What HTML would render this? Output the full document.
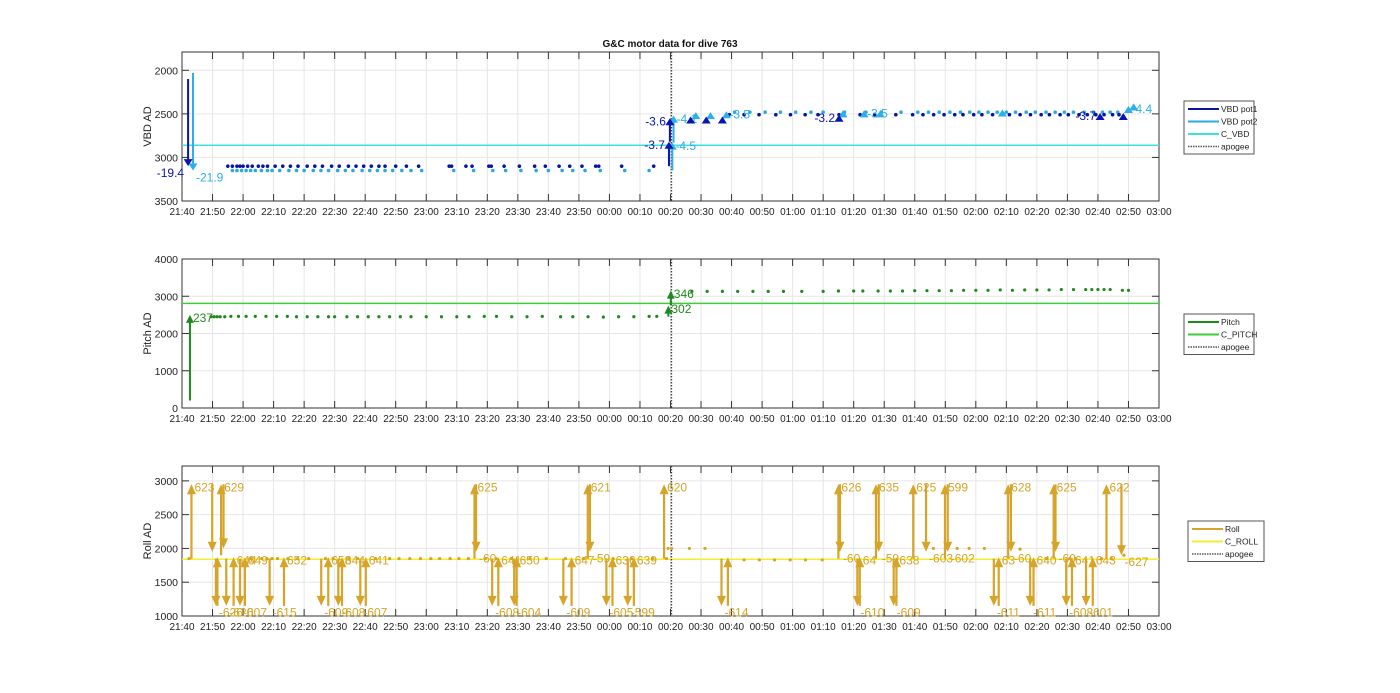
<!DOCTYPE html>
<html><head><meta charset="utf-8"><style>
body{margin:0;background:#fff;}
svg{display:block;font-family:"Liberation Sans",sans-serif;}
</style></head><body>
<svg id="chart" width="1400" height="693"></svg>
<script>
// ---------- data ----------
const xTickLabels=["21:40","21:50","22:00","22:10","22:20","22:30","22:40","22:50","23:00","23:10","23:20","23:30","23:40","23:50","00:00","00:10","00:20","00:30","00:40","00:50","01:00","01:10","01:20","01:30","01:40","01:50","02:00","02:10","02:20","02:30","02:40","02:50","03:00"];
const apogeeT=160.3;
// VBD
const vbdTicks=[2000,2500,3000,3500];
const cVBD=2860;
const pot1T=[15,16.5,18,19,20,21.5,23,25,26.5,28,30.5,33,35.5,38,41,43.5,46,49,51.5,54.5,57,59.5,62,64.5,66.5,70,73.5,77.5,87.5,88.3,93,95,100.5,101.3,105.5,110.5,115.5,119,123.5,127,131,135.5,136.5,144,154.5,179.3,184.1,189,194.5,199.3,204.1,208.3,215.2,222.1,226.9,233.8,239.3,242.7,246.2,249.6,253.1,255.8,259.3,262,265.5,268.3,271,274.5,277.9,281.4,284.1,287.6,290.3,293.8,296.5,299.3,302,304.8,306.9];
const pot1V=[3100,3100,3100,3100,3100,3100,3100,3100,3100,3100,3100,3100,3100,3100,3100,3100,3100,3100,3100,3100,3100,3100,3100,3100,3100,3100,3100,3100,3100,3100,3100,3100,3100,3100,3100,3100,3100,3100,3100,3100,3100,3100,3100,3100,3100,2510,2510,2510,2510,2510,2510,2510,2510,2510,2510,2510,2510,2510,2510,2510,2510,2510,2510,2510,2510,2510,2510,2510,2510,2510,2510,2510,2510,2510,2510,2510,2510,2510,2510];
const pot2T=[16.5,18,19.5,21,22.5,24,26,28,29.5,32,35,37.5,40,43,45.5,48,51,53.5,56,59,61.5,64,66.5,69,72,75,78.5,89,95.5,101.8,106,111,116,120,124.5,128,132,137,145,153,181,186,191,196,201,206,210,217,224,229,235.5,241,244.5,248,251.5,255,258,261,264,267,270,273,276.5,279.5,283,286,289,292,295.5,298.5,301.5,304,306.5];
const pot2V=[3150,3150,3150,3150,3150,3150,3150,3150,3150,3150,3150,3150,3150,3150,3150,3150,3150,3150,3150,3150,3150,3150,3150,3150,3150,3150,3150,3150,3150,3150,3150,3150,3150,3150,3150,3150,3150,3150,3150,3150,2480,2480,2480,2480,2480,2480,2480,2480,2480,2480,2480,2480,2480,2480,2480,2480,2480,2480,2480,2480,2480,2480,2480,2480,2480,2480,2480,2480,2480,2480,2480,2480,2480];
const pot1MoveT=[2,159.5,159.8,166.6,171.7,177,215.2,300.7,308.3];
const pot1MoveFrom=[2100,3100,2820,2560,2560,2560,2530,2520,2520];
const pot1MoveTo=[3100,2820,2550,2530,2530,2530,2510,2490,2490];
const pot1MoveLabel=["-19.4","-3.7","-3.6","","","","-3.2","-3.7",""];
const pot2MoveT=[3.6,160.6,161,168.3,173.1,178.3,216.5,223.4,228.7,268.7,310,311.7];
const pot2MoveFrom=[2030,3150,2830,2510,2510,2500,2490,2490,2490,2480,2440,2420];
const pot2MoveTo=[3150,2830,2520,2480,2480,2470,2460,2460,2460,2450,2410,2380];
const pot2MoveLabel=["-21.9","-4.5","-4.1","","","-3.5","","-3.5","","","-4.4",""];
// Pitch
const pitchTicks=[0,1000,2000,3000,4000];
const cPitch=2810;
const pitchT=[9.5,10.5,11.5,12.5,14,16,18.5,21,24,27.5,31,34.5,37.5,41,44.5,48,50,54,57.5,61,64.5,68,71.5,75,80,85,90,94,99,103,108,113,118,124,128,133,138,143,148,153,155.5,167,172,177,182,187,192,197,203,210,215,220,223,228,232,236,240,244,248,252,256,260,264,268,272,276,280,284,288,292,296,298,300,302,304,308,310];
const pitchV=[2450,2450,2450,2450,2450,2460,2460,2460,2460,2460,2460,2460,2450,2450,2450,2450,2450,2450,2450,2450,2450,2450,2450,2450,2450,2450,2450,2450,2460,2460,2450,2450,2460,2450,2450,2450,2440,2450,2450,2460,2460,3130,3130,3130,3130,3130,3130,3130,3130,3130,3140,3140,3140,3140,3140,3140,3150,3150,3150,3150,3160,3160,3160,3170,3160,3170,3170,3170,3180,3180,3180,3180,3180,3180,3180,3160,3160];
const pitchMoveT=[2.6,159.3,160.1];
const pitchMoveFrom=[200,2450,2750];
const pitchMoveTo=[2500,2750,3150];
const pitchMoveLabel=["237","302","346"];
// Roll
const rollTicks=[1000,1500,2000,2500,3000];
const cRoll=1840;
const rollT=[2.3,22.6,26.1,27.8,29.5,31.3,34.7,37.9,41.5,47,49.5,54.7,57.5,63.4,68,71.1,74.6,78.1,81.5,84.4,87.8,90.7,93.8,99.3,102.9,107.8,114,119.3,125.6,131.5,141.2,147.2,154.2,158.7,159.2,160.4,166.2,171.3,184.1,189.1,194.1,199.2,204.2,209.7,246.1,250,253.9,257.8,262.8,274.5,283,290.8,292.7,301.2,304.4,308.5];
const rollV=[1850,1850,1850,1850,1850,1850,1850,1850,1850,1850,1850,1850,1850,1850,1850,1850,1850,1850,1850,1850,1850,1850,1850,1850,1850,1850,1850,1850,1850,1850,1850,1850,1850,1850,2000,2000,2000,2000,1830,1830,1830,1830,1830,1830,2000,2000,2000,2000,2000,1990,1850,1850,1850,1850,1850,1900];
const rollMoveT=[3.1,9.9,11.1,11.6,12.8,13.6,14.5,16.9,19,20.6,28.7,33.4,45.6,47.9,51.2,52.4,58.4,60.2,95.8,96.3,101.6,103.6,108.8,109.6,124.9,127.6,132.9,133.6,139,141,146,148,157.9,176.7,178.8,215,215.5,221.2,222,227.3,228.2,233.1,234,239.5,243.7,249.9,250.8,265.9,267.5,270.6,271.5,277.8,278.9,285.5,286.1,289.6,291.5,296.1,298.3,302.8,307.7];
const rollMoveFrom=[1850,2950,1850,1150,1900,2950,1850,1150,1850,1150,1850,1150,1850,1150,1850,1150,1850,1150,1850,2950,1850,1150,1850,1150,1850,1150,1850,2950,1850,1150,1850,1150,1850,1850,1150,1850,2950,1850,1150,1850,2950,1850,1150,1850,2950,1850,2950,1850,1150,1850,2950,1850,1150,1850,2950,1850,1150,1850,1150,1850,2950];
const rollMoveTo=[2950,1950,1150,1870,2950,2000,1150,1870,1150,1870,1150,1870,1150,1870,1150,1870,1150,1870,2950,1950,1150,1870,1150,1870,1150,1870,2950,1950,1150,1870,1150,1870,2950,1150,1870,2950,1950,1150,1870,2950,1950,1150,1870,2950,1950,2950,1950,1150,1870,2950,1950,1150,1870,2950,1950,1150,1870,1150,1870,2950,1900];
const rollMoveLabel=["623","","-626","","629","","-620","644","-607","649","-615","652","-609","658","-608","644","-607","641","625","-60","-608","641","-604","650","-609","647","621","-59","-605","636","-599","639","620","-614","","626","-60","-610","64","635","-59","-609","638","625","-603","599","-602","-611","63","628","-60","-611","640","625","-60","-608","641","-601","643","622","-627"];

// ---------- drawing ----------
const svg=document.getElementById('chart');
const NS='http://www.w3.org/2000/svg';
function el(tag,attrs,parent){const e=document.createElementNS(NS,tag);for(const k in attrs)e.setAttribute(k,attrs[k]);(parent||svg).appendChild(e);return e;}
const X0=182,X1=1159,TMAX=320;
function xS(t){return X0+t*(X1-X0)/TMAX;}
function makeY(top,bot,lo,hi,rev){return v=>rev?top+(v-lo)/(hi-lo)*(bot-top):bot-(v-lo)/(hi-lo)*(bot-top);}

const panels=[
 {top:52,bot:201,lo:1790,hi:3500,rev:true,ticks:vbdTicks,title:"VBD AD",name:"vbd"},
 {top:259,bot:408,lo:0,hi:4000,rev:false,ticks:pitchTicks,title:"Pitch AD",name:"pitch"},
 {top:466,bot:616,lo:1000,hi:3220,rev:false,ticks:rollTicks,title:"Roll AD",name:"roll"}];
panels.forEach(p=>{p.y=makeY(p.top,p.bot,p.lo,p.hi,p.rev);});

function drawAxes(p){
 const g=el('g',{});
 
 
 el('rect',{x:X0,y:p.top,width:X1-X0,height:p.bot-p.top,fill:'#fff'},g);
 xTickLabels.forEach((lab,i)=>{
  const x=xS(i*10);
  el('line',{x1:x,x2:x,y1:p.top,y2:p.bot,stroke:'#e6e6e6','stroke-width':1},g);
  el('line',{x1:x,x2:x,y1:p.bot,y2:p.bot-7,stroke:'#333','stroke-width':1},g);
  el('line',{x1:x,x2:x,y1:p.top,y2:p.top+7,stroke:'#333','stroke-width':1},g);
  const t=el('text',{x:x,y:p.bot+14,'font-size':10,'text-anchor':'middle',fill:'#222'},g);
  t.textContent=lab;
  
  
 });
 p.ticks.forEach(v=>{
  const y=p.y(v);
  el('line',{x1:X0,x2:X1,y1:y,y2:y,stroke:'#e6e6e6','stroke-width':1},g);
  el('line',{x1:X0,x2:X0+7,y1:y,y2:y,stroke:'#333'},g);
  el('line',{x1:X1,x2:X1-7,y1:y,y2:y,stroke:'#333'},g);
  const t=el('text',{x:X0-4,y:y+4,'font-size':10.5,'text-anchor':'end',fill:'#222'},g);
  t.textContent=v;
  
  
 });
 el('rect',{x:X0,y:p.top,width:X1-X0,height:p.bot-p.top,fill:'none',stroke:'#333','stroke-width':1},g);
 const cy=(p.top+p.bot)/2;
 const yt=el('text',{x:151,y:cy,'font-size':11,'text-anchor':'middle',fill:'#222',transform:`rotate(-90 151 ${cy})`},g);
 yt.textContent=p.title;
 
 
}
panels.forEach(drawAxes);

function hline(p,v,color,name){
 const l=el('line',{x1:X0,x2:X1,y1:p.y(v),y2:p.y(v),stroke:color,'stroke-width':1.5});
 
 
}
function apogee(p){
 const x=xS(apogeeT);
 const l=el('line',{x1:x,x2:x,y1:p.top,y2:p.bot,stroke:'#444','stroke-width':1.5,'stroke-dasharray':'1.5,1.5'});
 
 
}
function dots(p,ts,vs,color,name,r){
 ts.forEach((t,i)=>{
  const c=el('circle',{cx:xS(t),cy:p.y(vs[i]),r:r,fill:color});
  
  
 });
}
function arrows(p,ts,fr,to,labs,color,name,hw,hl,lw,fs,leftLab){
 ts.forEach((t,i)=>{
  const x=xS(t),y0=p.y(fr[i]),y1=p.y(to[i]);
  const dir=y1<y0?-1:1;
  const g=el('g',{});
  
  
  el('line',{x1:x,x2:x,y1:y0,y2:y1-dir*hl*0.5,stroke:color,'stroke-width':lw},g);
  el('polygon',{points:`${x-hw},${y1-dir*hl} ${x+hw},${y1-dir*hl} ${x},${y1}`,fill:color},g);
  if(labs[i]){
   const tx=el('text',{x:leftLab?x-4:x+3,y:dir<0?y1+fs*0.6:y1+fs*0.9,'font-size':fs,'text-anchor':leftLab?'end':'start',fill:color},g);
   tx.textContent=labs[i];
  }
 });
}
const P1=panels[0],P2=panels[1],P3=panels[2];
hline(P1,cVBD,'#3ee0e0','c-vbd-line');
apogee(P1);
dots(P1,pot2T,pot2V,'#2aa8e0','vbd-pot2-point',1.8);
dots(P1,pot1T,pot1V,'#0a14a0','vbd-pot1-point',1.8);
arrows(P1,pot2MoveT,pot2MoveFrom,pot2MoveTo,pot2MoveLabel,'#2ab0e8','vbd-pot2-move',4.5,7,2,12,false);
arrows(P1,pot1MoveT,pot1MoveFrom,pot1MoveTo,pot1MoveLabel,'#0a14b0','vbd-pot1-move',4.5,7,2,12,true);
hline(P2,cPitch,'#3ccc3c','c-pitch-line');
apogee(P2);
dots(P2,pitchT,pitchV,'#1e8a1e','pitch-point',1.6);
arrows(P2,pitchMoveT,pitchMoveFrom,pitchMoveTo,pitchMoveLabel,'#1e8a1e','pitch-move',4,8,2,12,false);
hline(P3,cRoll,'#f2ee30','c-roll-line');
apogee(P3);
dots(P3,rollT,rollV,'#d6a428','roll-point',1.6);
arrows(P3,rollMoveT,rollMoveFrom,rollMoveTo,rollMoveLabel,'#d6a428','roll-move',4.5,10,2.2,12,false);

const tt=el('text',{x:670,y:47,'font-size':10,'font-weight':'bold','text-anchor':'middle',fill:'#111'});
tt.textContent='G&C motor data for dive 763';



function legend(x,y,w,items,name){
 const g=el('g',{});
 
 
 el('rect',{x:x,y:y,width:w,height:items.length*12.5+3,fill:'#fff',stroke:'#555','stroke-width':1},g);
 items.forEach((it,i)=>{
  const yy=y+8+i*12.5;
  el('line',{x1:x+4,x2:x+35,y1:yy,y2:yy,stroke:it[1],'stroke-width':it[2]?1.5:2,'stroke-dasharray':it[2]?'1.5,1':'none'},g);
  const t=el('text',{x:x+37,y:yy+3,'font-size':8.5,fill:'#222'},g);
  t.textContent=it[0];
 });
}
legend(1184,101,70,[["VBD pot1","#0a14a0"],["VBD pot2","#2aa8e0"],["C_VBD","#3ee0e0"],["apogee","#555",true]],'vbd-legend');
legend(1184,314,70,[["Pitch","#1e8a1e"],["C_PITCH","#3ccc3c"],["apogee","#555",true]],'pitch-legend');
legend(1188,521,76,[["Roll","#d6a428"],["C_ROLL","#f2ee30"],["apogee","#555",true]],'roll-legend');
</script>
</body></html>
